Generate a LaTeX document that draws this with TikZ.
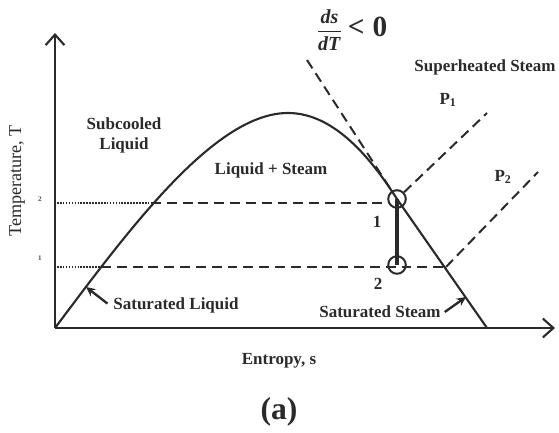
\documentclass[tikz,border=0pt]{standalone}
\usepackage{amsmath,bm}
\usepackage{fontspec}
\setmainfont{Liberation Serif}
\usetikzlibrary{arrows.meta,positioning}
\definecolor{ink}{HTML}{2A2A2A}
\definecolor{tickink}{HTML}{3A4C60}

\begin{document}
\begin{tikzpicture}[x=0.03cm, y=-0.03cm,
    axis/.style={line width=2pt, ink, -{Straight Barb[length=9pt,width=16pt,line width=1.8pt]}},
    dome/.style={line width=1.8pt, ink},
    pline/.style={line width=1.7pt, ink, dash pattern=on 8.5pt off 5pt},
    guide/.style={line width=1.7pt, ink, dash pattern=on 1.4pt off 1.1pt},
    state/.style={draw=ink, circle, line width=1.7pt, minimum size=15pt, inner sep=0pt},
    region/.style={font=\fontsize{14.5}{17}\selectfont\bfseries, text=ink, align=center},
    pointer/.style={-{Stealth[length=8pt,width=7.5pt]}, line width=2pt, ink},
    tick/.style={font=\fontsize{6}{7}\selectfont\bfseries, text=tickink}
]
\useasboundingbox (0,0) rectangle (559,433);

% Achsen
\coordinate (o) at (55,328);
\coordinate (ytop) at (55,33);
\coordinate (xend) at (555,328);
\draw[axis] (o) -- (ytop);
\draw[axis] (o) -- (xend);

% Sättigungskurve
\draw[dome] (o) .. controls (130,228) and (215,113) .. (288,113)
    .. controls (335,113) and (372,160) .. (397,199) -- (487,328);

% Zustände 1 und 2
\node[state] (c1) at (397,199) {};
\node[state] (c2) at (397,265) {};
\draw[line width=2.6pt, ink] (c1.center) -- (c2.center);

% Temperaturniveaus
\coordinate (t2) at (57,203);
\coordinate (l2) at (151,203);
\coordinate (t1) at (57,267);
\coordinate (l1) at (101,267);
\coordinate (r1) at (446,267);
\draw[guide] (t2) -- (l2);
\draw[pline] (l2) -- (l2 -| c1.west);
\draw[guide] (t1) -- (l1);
\draw[pline] (l1) -- (r1);
\node[tick] (n2) at (40,199) {2};
\node[tick] (n1) at (40,258) {1};

% Isobaren und Steigung
\coordinate (p1end) at (487,113);
\coordinate (p2end) at (538,172);
\coordinate (dsstart) at (307,60);
\draw[pline] (c1) -- (p1end);
\draw[pline] (r1) -- (p2end);
\draw[pline] (dsstart) -- (c1);

% Beschriftungen
\node[font=\fontsize{17}{20}\selectfont\bfseries, text=ink, inner sep=0pt] (slope) at (352,30)
    {$\dfrac{\textbf{\textit{ds}}}{\textbf{\textit{dT}}}$\;{\fontsize{25}{28}\selectfont <\;0}};
\node[region] (sup) at (485,67) {Superheated Steam};
\node[region] (p1) at (448,100) {P\textsubscript{1}};
\node[region] (p2) at (503,177) {P\textsubscript{2}};
\node[region] (sub) at (124,135) {Subcooled\\Liquid};
\node[region] (mix) at (271,170) {Liquid + Steam};
\node[region] (lab1) at (377,222) {1};
\node[region] (lab2) at (378,284) {2};
\node[region] (satl) at (176,305) {Saturated Liquid};
\node[region] (sats) at (380,312) {Saturated Steam};

% Pfeile zur Kurve
\coordinate (satlpt) at (86,287);
\coordinate (satspt) at (466,297);
\draw[pointer, shorten <=2pt] (satl.west) -- (satlpt);
\draw[pointer] (sats.east) -- (satspt);

% Achsentitel
\node[region] (xlab) at (279,361) {Entropy, s};
\node[font=\fontsize{15.5}{18}\selectfont, text=ink, rotate=90] (ylab) at (17,181) {Temperature, T};
\node[font=\fontsize{27}{30}\selectfont\bfseries, text=ink] (cap) at (279,412) {(a)};

\end{tikzpicture}
\end{document}
